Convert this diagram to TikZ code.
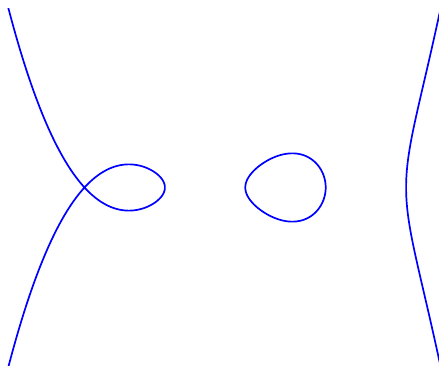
\documentclass[tikz,border=0pt]{standalone}
\begin{document}
\begin{tikzpicture}[x=80.4pt,y=17.9pt]
\tikzset{curve/.style={blue,line width=1.7pt,smooth}}
\useasboundingbox (-245.3pt,-178.5pt) rectangle (193.7pt,187.5pt);
\clip (-3.06,-10) rectangle (2.41,10);
\draw[curve] plot[domain=-1.42:1.42,samples=240,variable=\t] ({-1-\t*\t},{(1-\t*\t)*\t*sqrt((1+\t*\t)*(2+\t*\t)*(3+\t*\t))});
\draw[curve] plot[domain=0:360,samples=181,variable=\t] ({(1-cos(\t))/2},{(5-cos(\t))*sqrt(9-cos(\t)*cos(\t))*sin(\t)/8}) -- cycle;
\draw[curve] plot[domain=-0.68:0.68,samples=120,variable=\t] ({2+\t*\t},{(4+\t*\t)*\t*sqrt((3+\t*\t)*(2+\t*\t)*(1+\t*\t))});
\end{tikzpicture}
\end{document}
